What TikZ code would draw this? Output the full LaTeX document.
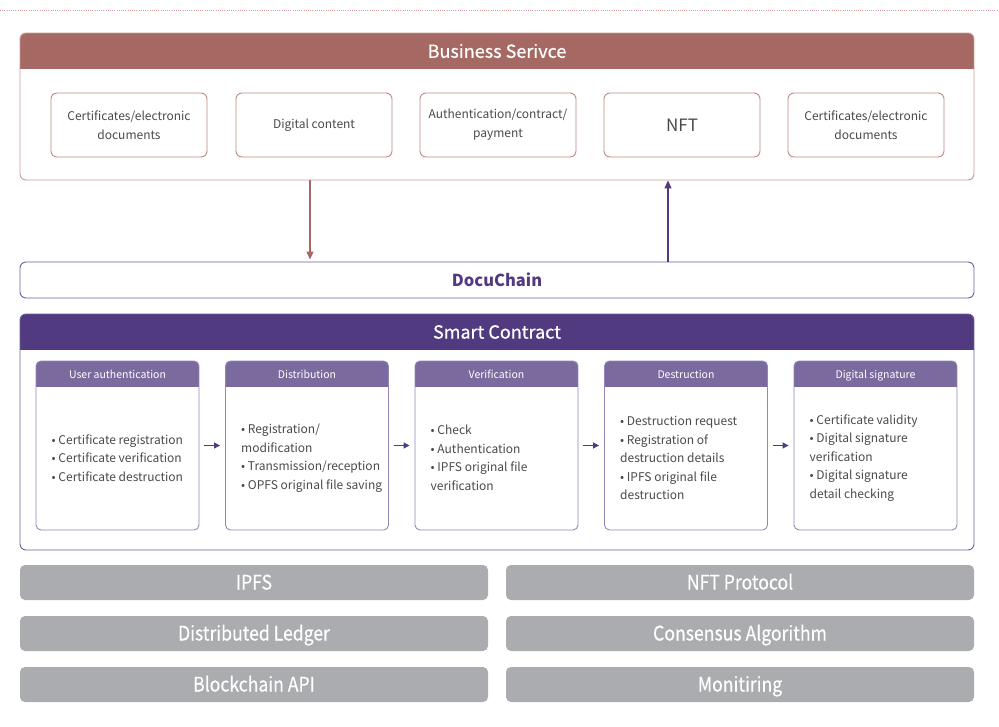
\documentclass[tikz,border=0pt]{standalone}
\usepackage{fontspec}
\usepackage{graphicx}
\setmainfont{Noto Sans CJK KR}
\usetikzlibrary{arrows.meta,calc}
\definecolor{bsred}{HTML}{A66862}
\definecolor{bsline}{HTML}{C99A96}
\definecolor{bsinner}{HTML}{C08A85}
\definecolor{scpurple}{HTML}{523A80}
\definecolor{colhead}{HTML}{7B6A9E}
\definecolor{colline}{HTML}{9486B8}
\definecolor{dcline}{HTML}{6E5E9C}
\definecolor{txtgray}{HTML}{4A4A4A}
\definecolor{bargray}{HTML}{ABACAF}
\definecolor{dotred}{HTML}{D99A9A}
\tikzset{
  bsbox/.style={draw=bsinner, line width=0.9pt, rounded corners=6pt, fill=white,
    minimum width=156pt, minimum height=64pt, inner sep=0pt, align=center,
    text=txtgray, font=\fontsize{12}{19}\selectfont},
  colbox/.style={draw=colline, line width=0.9pt, rounded corners=5pt,
    minimum width=163pt, minimum height=169pt, inner sep=0pt},
  bodytext/.style={anchor=west, align=left, text=txtgray, inner sep=0pt,
    font=\fontsize{12}{18.5}\selectfont},
  headtext/.style={anchor=base, text=white, inner sep=0pt, font=\fontsize{10.5}{12}\selectfont},
  titletext/.style={text=white, inner sep=0pt, font=\fontsize{18}{20}\selectfont},
  bar/.style={fill=bargray, rounded corners=5pt, minimum width=468pt, minimum height=35pt,
    inner sep=0pt},
  bartext/.style={anchor=base, inner sep=0pt, text=white,
    font=\fontsize{20}{22}\selectfont\addfontfeatures{FakeBold=0.3}},
  tri/.style={-{Triangle[length=8pt,width=7pt]}, line width=1.2pt},
  smallarr/.style={-{Triangle[length=6pt,width=6pt]}, line width=1.1pt, draw=scpurple,
    shorten <=5pt, shorten >=5pt}
}
\begin{document}
\begin{tikzpicture}[x=1pt,y=-1pt]
\useasboundingbox (0,0) rectangle (999,727);
\fill[white] (0,0) rectangle (999,727);
% dotted top line
\draw[dotred, line width=0.6pt, dash pattern=on 1pt off 1.2pt] (0,10) -- (999,10);

% ---------- Business service ----------
\begin{scope}
  \clip[rounded corners=6pt] (20,33) rectangle (974,180);
  \fill[bsred] (20,33) rectangle (974,69);
\end{scope}
\node[draw=bsline, line width=0.9pt, rounded corners=6pt, minimum width=954pt,
  minimum height=147pt, inner sep=0pt] (bs) at (497,106.5) {};
\node[titletext] (bst) at (497,51) {\addfontfeatures{FakeBold=0.6}Business Serivce};
\node[bsbox] (b1) at (129,125) {Certificates/electronic\\documents};
\node[bsbox] (b2) at (314,125) {Digital content};
\node[bsbox] (b3) at (498,125) {Authentication/contract/\\payment};
\node[bsbox, font=\fontsize{17}{20}\selectfont] (b4) at (682,125) {NFT};
\node[bsbox] (b5) at (866,125) {Certificates/electronic\\documents};

% ---------- DocuChain ----------
\node[draw=dcline, line width=0.9pt, rounded corners=6pt, minimum width=954pt,
  minimum height=36pt, inner sep=0pt, text=scpurple,
  font=\fontsize{16.5}{20}\selectfont\bfseries] (dc) at (497,280) {DocuChain};

\draw[tri, draw=bsred, fill=bsred] (bs.south -| 310,0) -- ([yshift=2pt]dc.north -| 310,0);
\draw[tri, draw=scpurple, fill=scpurple] (dc.north -| 668,0) -- (bs.south -| 668,0);

% ---------- Smart Contract ----------
\begin{scope}
  \clip[rounded corners=6pt] (20,314) rectangle (974,550);
  \fill[scpurple] (20,314) rectangle (974,350);
\end{scope}
\node[draw=dcline, line width=0.9pt, rounded corners=6pt, minimum width=954pt,
  minimum height=236pt, inner sep=0pt] (sc) at (497,432) {};
\node[titletext] (sct) at (497,332) {\addfontfeatures{FakeBold=0.6}Smart Contract};

\foreach \i/\cx/\hd/\bd in {
  1/117.5/User authentication/{• Certificate registration\\• Certificate verification\\• Certificate destruction},
  2/307/Distribution/{• Registration/\\modification\\• Transmission/reception\\• OPFS original file saving},
  3/496.5/Verification/{• Check\\• Authentication\\• IPFS original file\\verification},
  4/686/Destruction/{• Destruction request\\• Registration of\\destruction details\\• IPFS original file\\destruction},
  5/875.5/Digital signature/{• Certificate validity\\• Digital signature\\verification\\• Digital signature\\detail checking}} {
  \begin{scope}
    \clip[rounded corners=5pt] (\cx-81.5,361) rectangle (\cx+81.5,530);
    \fill[colhead] (\cx-81.5,361) rectangle (\cx+81.5,387);
  \end{scope}
  \node[colbox] (c\i) at (\cx,445.5) {};
  \node[headtext] (h\i) at (\cx,378) {\hd};
  \node[bodytext] (t\i) at (\cx-66,458) {\bd};
}
\foreach \a/\b in {1/2,2/3,3/4,4/5}
  \draw[smallarr, fill=scpurple] (c\a.east) -- (c\b.west);

% ---------- bottom bars ----------
\node[bar] (p1) at (254,582.5) {};
\node[bar] (p2) at (740,582.5) {};
\node[bar] (p3) at (254,633.5) {};
\node[bar] (p4) at (740,633.5) {};
\node[bar] (p5) at (254,684.5) {};
\node[bar] (p6) at (740,684.5) {};
\node[bartext] (l1) at ([yshift=-7pt]p1.center) {\scalebox{0.88}[1]{IPFS}};
\node[bartext] (l2) at ([yshift=-7pt]p2.center) {\scalebox{0.88}[1]{NFT Protocol}};
\node[bartext] (l3) at ([yshift=-7pt]p3.center) {\scalebox{0.88}[1]{Distributed Ledger}};
\node[bartext] (l4) at ([yshift=-7pt]p4.center) {\scalebox{0.88}[1]{Consensus Algorithm}};
\node[bartext] (l5) at ([yshift=-7pt]p5.center) {\scalebox{0.88}[1]{Blockchain API}};
\node[bartext] (l6) at ([yshift=-7pt]p6.center) {\scalebox{0.88}[1]{Monitiring}};
\end{tikzpicture}
\end{document}
